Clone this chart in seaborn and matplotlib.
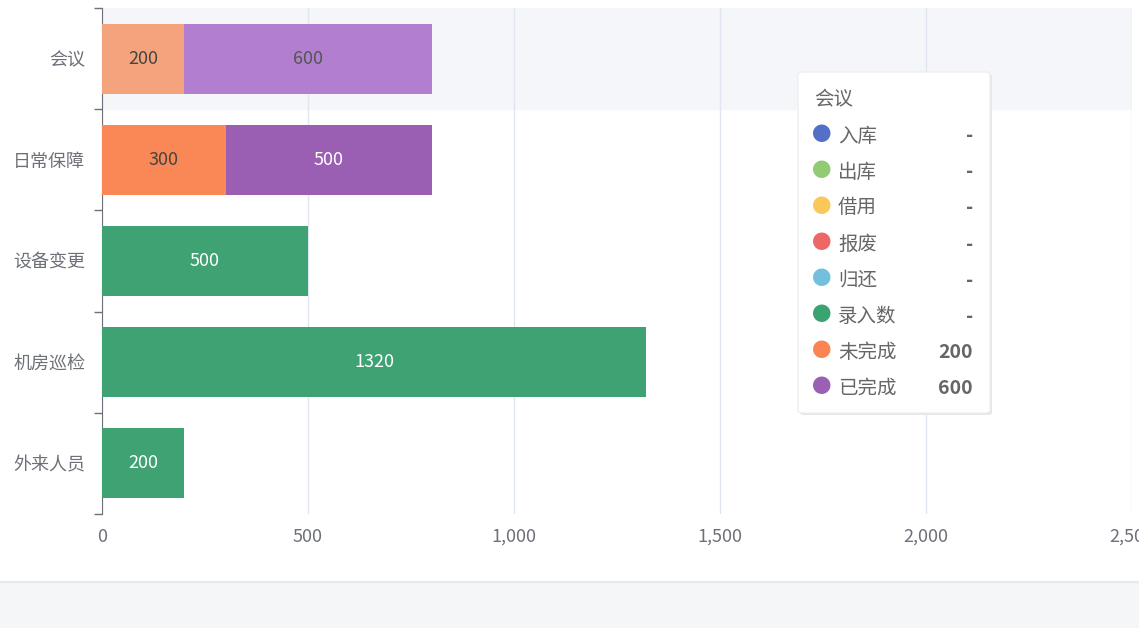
import matplotlib.pyplot as plt
import seaborn as sns
import pandas as pd
from matplotlib.patches import FancyBboxPatch, Rectangle

categories = ['会议', '日常保障', '设备变更', '机房巡检', '外来人员']
entered = [0, 0, 500, 1320, 200]      # 录入数
unfinished = [200, 300, 0, 0, 0]     # 未完成
finished = [600, 500, 0, 0, 0]       # 已完成
xticks = [0, 500, 1000, 1500, 2000, 2500]

tip_names = ['入库', '出库', '借用', '报废', '归还', '录入数', '未完成', '已完成']
tip_values = ['-', '-', '-', '-', '-', '-', '200', '600']
tip_colors = ['#5470c6', '#91cc75', '#fac858', '#ee6666', '#73c0de', '#3ba272', '#fc8452', '#9a60b4']

sns.set_style('white')
plt.rcParams['font.family'] = ['Noto Sans CJK SC', 'DejaVu Sans']

df = pd.DataFrame({'cat': categories, 'entered': entered,
                   'unfinished': unfinished, 'finished': finished})
df['total'] = df['entered'] + df['unfinished'] + df['finished']

fig = plt.figure(figsize=(11.39, 6.28), dpi=100)
ax = fig.add_axes([102 / 1139, 1 - 514 / 628, 1030 / 1139, 506 / 628])

# highlighted row band
ax.axhspan(-0.5, 0.5, color='#f5f6fa', zorder=0)

top_pal = ['#b27fd0', '#9a5fb2', '#3fa272', '#3fa272', '#3fa272']
low_pal = ['#f5a37d', '#f98856', '#3fa272', '#3fa272', '#3fa272']
sns.barplot(data=df, y='cat', x='total', hue='cat', palette=top_pal, orient='h',
            width=0.69, saturation=1, linewidth=0, legend=False, ax=ax, zorder=3)
sub = df[df['unfinished'] > 0]
sns.barplot(data=sub, y='cat', x='unfinished', hue='cat', palette=low_pal[:len(sub)],
            orient='h', width=0.69, saturation=1, linewidth=0, legend=False, ax=ax, zorder=4)

for i, r in df.iterrows():
    if r['unfinished'] > 0:
        ax.text(r['unfinished'] / 2, i, str(r['unfinished']), ha='center', va='center',
                fontsize=13, color='#444', zorder=5)
        ax.text(r['unfinished'] + r['finished'] / 2, i, str(r['finished']), ha='center',
                va='center', fontsize=13, color='#555' if i == 0 else 'white', zorder=5)
    else:
        ax.text(r['entered'] / 2, i, str(r['entered']), ha='center', va='center',
                fontsize=13, color='white', zorder=5)

ax.set_xlim(0, 2500)
ax.set_ylim(4.5, -0.5)
ax.set_xticks(xticks)
ax.set_xticklabels([f'{v:,}' for v in xticks])
ax.set_xlabel('')
ax.set_ylabel('')
ax.grid(axis='x', color='#e0e6f1', lw=1, zorder=1)
for s in ['top', 'right', 'bottom']:
    ax.spines[s].set_visible(False)
ax.spines['left'].set_color('#6e7079')
ax.set_yticks([y - 0.5 for y in range(6)], minor=True)
ax.tick_params(axis='y', which='major', length=0, pad=12, labelsize=13, labelcolor='#6e7079')
ax.tick_params(axis='y', which='minor', left=True, length=6, width=1, color='#6e7079')
ax.tick_params(axis='x', length=0, pad=10, labelsize=13, labelcolor='#6e7079')

# bottom strip
fig.patches.append(Rectangle((0, 0), 1, 46 / 628, transform=fig.transFigure,
                             color='#f5f6f8', zorder=0))
fig.add_artist(plt.Line2D([0, 1], [46 / 628, 46 / 628], color='#e8e9ec', lw=1.5))

# tooltip
W, H = 1139, 628
fig.patches.append(FancyBboxPatch((800 / W, 1 - 415 / H), 192 / W, 341 / H,
                                  boxstyle='round,pad=0,rounding_size=0.004',
                                  transform=fig.transFigure, fc='#e6e6e6', ec='none', zorder=6))
fig.patches.append(FancyBboxPatch((798 / W, 1 - 413 / H), 192 / W, 341 / H,
                                  boxstyle='round,pad=0,rounding_size=0.004',
                                  transform=fig.transFigure, fc='white', ec='#eeeeee', zorder=7))
fig.text(814 / W, 1 - 100 / H, '会议', fontsize=14, color='#666', va='center', zorder=8)
for k, (n, v, c) in enumerate(zip(tip_names, tip_values, tip_colors)):
    y = 1 - (136 + 36 * k) / H
    fig.text(822 / W, y, '●', fontsize=14, color=c, ha='center', va='center', zorder=8)
    fig.text(838 / W, y, n, fontsize=14, color='#666', va='center', zorder=8)
    fig.text(973 / W, y, v, fontsize=14, color='#666', ha='right', va='center',
             fontweight='bold', zorder=8)

fig.savefig('out.png', dpi=100)
